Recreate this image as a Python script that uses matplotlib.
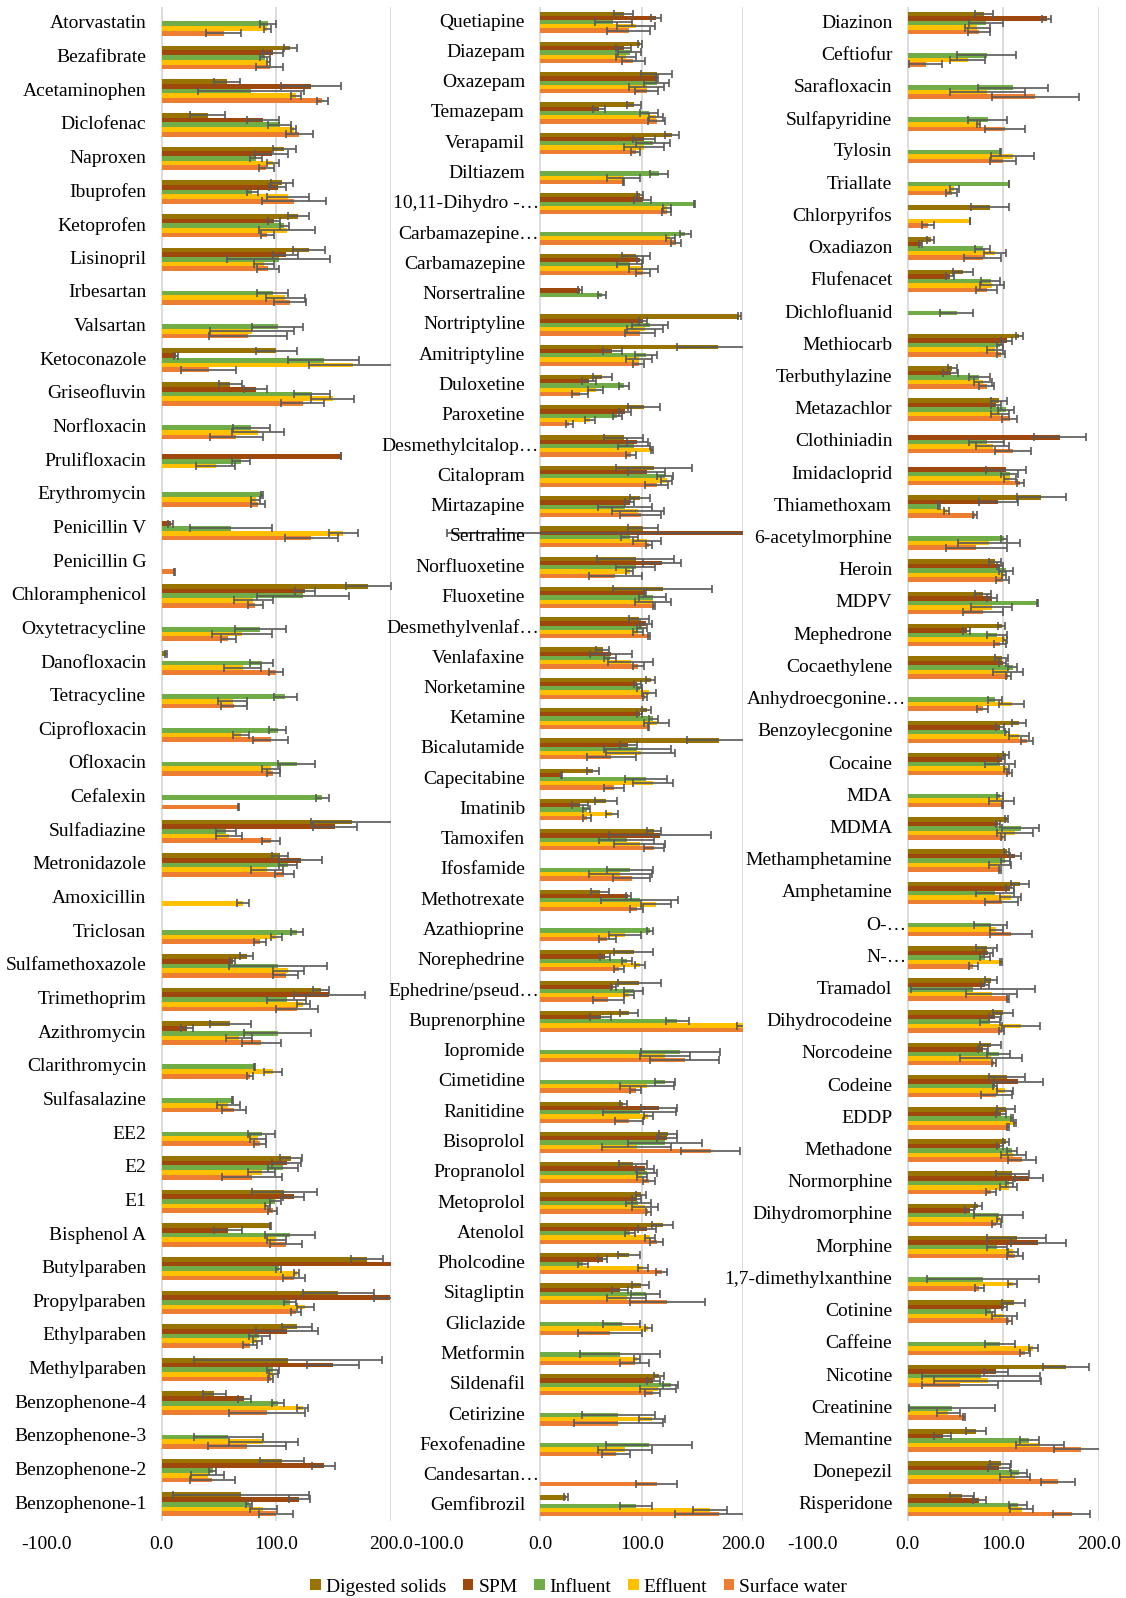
import numpy as np
import matplotlib
matplotlib.use("Agg")
import matplotlib.pyplot as plt
from matplotlib.patches import Patch

plt.rcParams["font.family"] = ["Liberation Serif", "DejaVu Serif"]

SERIES = ["Digested solids", "SPM", "Influent", "Effluent", "Surface water"]
COLORS = ["#997300", "#9E480E", "#70AD47", "#FFC000", "#ED7D31"]
N = None

# ---------------- panel 1 ----------------
p1_labels = ["Atorvastatin", "Bezafibrate", "Acetaminophen", "Diclofenac", "Naproxen",
             "Ibuprofen", "Ketoprofen", "Lisinopril", "Irbesartan", "Valsartan",
             "Ketoconazole", "Griseofluvin", "Norfloxacin", "Prulifloxacin", "Erythromycin",
             "Penicillin V", "Penicillin G", "Chloramphenicol", "Oxytetracycline", "Danofloxacin",
             "Tetracycline", "Ciprofloxacin", "Ofloxacin", "Cefalexin", "Sulfadiazine",
             "Metronidazole", "Amoxicillin", "Triclosan", "Sulfamethoxazole", "Trimethoprim",
             "Azithromycin", "Clarithromycin", "Sulfasalazine", "EE2", "E2",
             "E1", "Bisphenol A", "Butylparaben", "Propylparaben", "Ethylparaben",
             "Methylparaben", "Benzophenone-4", "Benzophenone-3", "Benzophenone-2", "Benzophenone-1"]
p1_ds = [N, 112, 57, 40, 107, 105, 119, 128, N, N,
         100, 60, N, N, N, N, N, 180, N, 4,
         N, N, N, N, 166, 103, N, N, 74, 139,
         60, N, N, N, 113, 107, 95, 179, 154, 118,
         110, 46, N, 105, 69]
p1_ds_err = [0, 5.5, 11, 15, 9.6, 9.5, 9, 14, 0, 0,
             18, 9.6, 0, 0, 0, 0, 0, 19.5, 0, 1,
             0, 0, 0, 0, 36, 7, 0, 0, 6, 7,
             18, 0, 0, 0, 9.6, 28, 0.5, 14, 31, 13,
             82, 10, 0, 19, 59]
p1_spm = [N, 97, 130, 88, 96, 101, 98, 108, N, N,
          12.5, 82, N, 156, N, 8, N, 125, N, N,
          N, N, N, N, 151, 121, N, N, 62, 146,
          22, N, N, N, 109, 115, 58, 205, 199, 109,
          149, 72, N, 141, 120]
p1_spm_err = [0, 9, 26, 14, 14.5, 7.5, 5, 11, 0, 0,
              2, 10, 0, 0, 0, 2, 0, 9, 0, 0,
              0, 0, 0, 0, 19.5, 18.5, 0, 0, 2, 31,
              5, 0, 0, 0, 12.5, 9, 12, 0, 14, 27,
              22.5, 5.5, 0, 9.7, 9]
p1_inf = [93, 90, 78, 103, 82, 79, 107, 102, 97, 101,
          141, 131, 78, 69, 87.5, 60.5, N, 123.5, 86, 87,
          107.5, 101, 117.7, 140, 56, 110, N, 117.7, 101.7, 109,
          101, 81, 61.6, 87, 106, 99, 112, 102, 112, 85,
          97, 101.5, 58, 44.5, 76]
p1_inf_err = [7, 4, 46, 10, 5, 5, 4, 45, 13.5, 22,
              31, 15.4, 16, 7.6, 1, 36, 0, 40, 22, 9.6,
              10, 7.5, 16, 5.4, 8.7, 8, 0, 5, 42.6, 17,
              29, 0.6, 0.5, 12, 13, 5, 22, 2, 5, 9,
              5, 5, 30, 3.2, 2.3]
p1_eff = [92, 93, 117, 115, 97, 110, 109, 89, 107.5, 79,
          167, 149, 84, 47, 82, 158, N, 80, 70, 70.6,
          62, 69, 95, N, 58.4, 92, 71, 100, 110.5, 123.5,
          67, 96.8, 58, 84, 87, 92, 100, 117.7, 125, 83.4,
          97.4, 122.7, 88.7, 40, 88.7]
p1_eff_err = [3, 1.5, 4.6, 2, 5, 18.6, 24.5, 8.7, 17, 36.5,
              39, 18.6, 23, 17, 4, 12.6, 0, 16.6, 26, 16,
              12.5, 7, 7.7, 0, 11.3, 14, 5.2, 5, 13.4, 5.7,
              11.3, 7.7, 10, 7.3, 12, 2.3, 8.5, 2.3, 7.5, 4.2,
              4, 5, 30, 14, 12]
p1_sw = [54, 94, 140, 120, 91, 115, 92, 93, 112, 75.6,
         41, 122.7, 65, N, 84, 130.5, 11, 81.7, 58, 99.7,
         63, 95, 97.4, 67, 95, 107, N, 85.8, 108, 117.7,
         86.6, 77, 63.4, 85.8, 79, 96.8, 108.4, 115.4, 117, 77,
         95, 92, 74, 44, 99.7]
p1_sw_err = [15, 12, 5, 12, 6.5, 28, 5.5, 9.6, 14, 34,
             24, 19, 23, 0, 6, 23.4, 0.5, 6.8, 6.5, 6.4,
             11.5, 15, 5.4, 0.5, 8, 8, 0, 5, 11, 18.5,
             17, 2.5, 10.5, 5.5, 26, 3.8, 14, 9.7, 4, 6,
             2, 33, 34, 19.5, 15]

# ---------------- panel 2 ----------------
p2_labels = ["Quetiapine", "Diazepam", "Oxazepam", "Temazepam", "Verapamil",
             "Diltiazem", "10,11-Dihydro -\u2026", "Carbamazepine\u2026", "Carbamazepine", "Norsertraline",
             "Nortriptyline", "Amitriptyline", "Duloxetine", "Paroxetine", "Desmethylcitalop\u2026",
             "Citalopram", "Mirtazapine", "Sertraline", "Norfluoxetine", "Fluoxetine",
             "Desmethylvenlaf\u2026", "Venlafaxine", "Norketamine", "Ketamine", "Bicalutamide",
             "Capecitabine", "Imatinib", "Tamoxifen", "Ifosfamide", "Methotrexate",
             "Azathioprine", "Norephedrine", "Ephedrine/pseud\u2026", "Buprenorphine", "Iopromide",
             "Cimetidine", "Ranitidine", "Bisoprolol", "Propranolol", "Metoprolol",
             "Atenolol", "Pholcodine", "Sitagliptin", "Gliclazide", "Metformin",
             "Sildenafil", "Cetirizine", "Fexofenadine", "Candesartan\u2026", "Gemfibrozil"]
p2_ds = [82, 98, 114.6, 92, 130, N, 98, N, 94, N,
         196, 175, 61, 102.5, 82, 112, 98, 101.5, 94, 120.5,
         97, 61.4, 108.7, 104.8, 175.7, 52, 64.7, 112, N, 58.8,
         N, 92, 97.5, 87.7, N, N, 81.8, 126, 91.6, 98.8,
         120.5, 87.4, 98.8, N, N, 117, N, N, N, 25.3]
p2_ds_err = [9, 2, 15.5, 7, 7, 0, 3, 0, 14, 0,
             1.6, 40, 9.4, 15.8, 19, 37.4, 9.7, 14.8, 37.8, 48.6,
             10, 6.6, 4.6, 4.3, 31, 5.6, 11, 7, 0, 8.7,
             0, 19, 21, 8.7, 0, 0, 3.6, 9, 14, 5,
             10.5, 11, 8, 0, 0, 5.3, 0, 0, 0, 1.6]
p2_spm = [114, 82, 114.6, 58, 102, N, 100.8, N, 98, 39,
          101.5, 71, 47.6, 83.4, 95.6, 104.8, 88, 260, 120, 103,
          104, 69.6, 95.6, 98, 86.7, 21.3, 39, 118, N, 86.7,
          N, 63.7, 72, 59.4, N, N, 117, 125, 103, 95,
          104.8, 61.4, 78.5, N, N, 111.3, N, N, N, N]
p2_spm_err = [5.4, 7, 1, 6, 10.7, 0, 8.5, 0, 3, 2.3,
              4, 9, 7, 5.6, 10.5, 18, 4.6, 352, 19, 1.3,
              6, 20.7, 3.3, 2.5, 8.2, 0.5, 8, 50, 0, 2.3,
              0, 5, 2.8, 10, 0, 0, 18, 10, 9, 4.3,
              9, 4.3, 8.2, 0, 0, 6.6, 0, 0, 0, 0]
p2_inf = [72, 88, 114.6, 107, 110.7, 117, 152, 143, 88, 61,
          108, 104, 82.4, 76, 92, 122.8, 83.4, 88, 94, 110.7,
          100, 68.6, 98, 111.3, 95.6, 104, 45.6, 85, 88, 98,
          108, 85, 92, 135, 138, 122.8, 98, 123, 104.8, 96.6,
          88, 41.7, 104, 80, 78.5, 128.4, 77, 107, N, 94]
p2_inf_err = [18.6, 11, 12.5, 8.7, 16.7, 9, 0.5, 5, 12, 4,
              17.7, 11, 4.6, 4.6, 15.6, 7.7, 27, 8.5, 19.4, 13.5,
              4.8, 5.6, 2.5, 4.6, 33, 20.7, 3.3, 27, 22.7, 38,
              3.3, 5, 9.4, 11.5, 39, 9.5, 36, 36.6, 10, 12.6,
              5, 5, 14.3, 18.4, 39, 7.5, 36, 42, 0, 15.6]
p2_eff = [94, 84.4, 104.8, 114, 102, 82, 124.5, 128, 101.5, N,
          103, 97, 54.5, 49, 110, 124.5, 96.6, 104.8, 88, 111,
          96.6, 89, 107, 114.6, 98.8, 110.7, 71, 98, 79, 114,
          83.4, 98, 87.7, 205, 122.8, 105.4, 106.4, 95, 100, 103,
          108, 101.5, 85, 106.4, 95.6, 116, 110, 83.4, N, 167]
p2_eff_err = [18.7, 10, 17, 7, 19.7, 15.8, 4, 4.6, 14, 0,
              17.7, 13, 7.5, 4.8, 1.3, 5.6, 25.6, 13.8, 3.6, 18,
              5, 22, 7, 12.3, 34, 19.7, 6, 25, 31, 15,
              15.8, 5, 5, 11, 25, 26.6, 4.6, 34, 5, 13,
              5, 5, 19.4, 3.3, 3, 17.6, 13, 27, 0, 16.7]
p2_sw = [87, 91.6, 104.8, 114.6, 94, 82.4, 124.5, 134, 101.5, N,
         98, 97, 39, 28.6, 89, 114.6, 98.8, 107, 74, 112,
         107, 96.6, 103, 107, 70, 72.6, 45.6, 112, 90, 95,
         66, 77.8, 67, 210, 142.5, 94, 87.7, 167.8, 107, 106.4,
         114.6, 119.5, 125, 68.6, 93, 110.7, 77, 74.5, 114.6, 176]
p2_sw_err = [21, 11.5, 11.3, 8.7, 4.6, 0.5, 4.6, 5, 7, 0,
             15, 5.5, 7.7, 3.3, 5, 11.7, 20.5, 3, 26, 1.3,
             1, 5.7, 2, 0.5, 24.3, 10.3, 4, 10.3, 18.4, 6.6,
             8.5, 5, 15, 0, 34, 5.6, 13.8, 29, 6, 2.6,
             6.2, 5.3, 37, 31.5, 14.3, 7.4, 44, 13.8, 20.5, 43]

# ---------------- panel 3 ----------------
p3_labels = ["Diazinon", "Ceftiofur", "Sarafloxacin", "Sulfapyridine", "Tylosin",
             "Triallate", "Chlorpyrifos", "Oxadiazon", "Flufenacet", "Dichlofluanid",
             "Methiocarb", "Terbuthylazine", "Metazachlor", "Clothiniadin", "Imidacloprid",
             "Thiamethoxam", "6-acetylmorphine", "Heroin", "MDPV", "Mephedrone",
             "Cocaethylene", "Anhydroecgonine\u2026", "Benzoylecgonine", "Cocaine", "MDA",
             "MDMA", "Methamphetamine", "Amphetamine", "O-\u2026", "N-\u2026",
             "Tramadol", "Dihydrocodeine", "Norcodeine", "Codeine", "EDDP",
             "Methadone", "Normorphine", "Dihydromorphine", "Morphine", "1,7-dimethylxanthine",
             "Cotinine", "Caffeine", "Nicotine", "Creatinine", "Memantine",
             "Donepezil", "Risperidone"]
p3_ds = [80, N, N, N, N, N, 86, 24, 57.6, N,
         117, 47, 96, N, N, 140, N, 91.5, 79, 98.4,
         98.4, N, 117, 103, N, 103.7, 103.7, 117.6, N, 82.7,
         87, 100, 87, 104.4, 103, 103, 109.6, 74, 114, N,
         111, N, 165.5, N, 71.6, 97.4, 57.2]
p3_ds_err = [9, 0, 0, 0, 0, 0, 20, 4, 10.5, 0,
             4, 5, 8.4, 0, 0, 26, 0, 6.5, 8.2, 3.8,
             6.5, 0, 7.3, 3, 0, 1.8, 2.3, 9, 0, 10.8,
             6.3, 10.3, 11, 18.8, 9.4, 3, 17, 3.5, 31, 0,
             11.7, 0, 24.3, 0, 10.6, 11, 12.6]
p3_spm = [145.5, N, N, N, N, N, N, 13.6, 44.3, N,
          103.7, 45, 92.5, 159.5, 103, 95, N, 96.7, 88, 61.8,
          99.5, N, 96.7, 98.4, N, 95, 112.7, 107, N, 84.5,
          81, 91.5, 79, 116, 97.7, 96.7, 126.7, 65.3, 136.8, N,
          101, N, 92.5, N, 36.6, 96, 75]
p3_spm_err = [4.4, 0, 0, 0, 0, 0, 0, 1.7, 4.5, 0,
              5.8, 7.7, 5.6, 27, 21, 20.6, 0, 3.5, 5.2, 3.5,
              4, 0, 4, 3.7, 0, 2, 5.6, 4, 0, 5,
              3.7, 5.8, 5.6, 25.8, 5.2, 3.5, 14.8, 4.7, 28.8, 0,
              2.6, 0, 12.7, 0, 8.9, 11.7, 6.6]
p3_inf = [82, 82.7, 110.6, 83.8, 97.7, 106.5, N, 78.5, 87, 51.3,
          96.7, 75, 103, 82.7, 107, 33, 101, 103, 136, 94,
          110, 91.5, 104.4, 96.7, 96.7, 118.3, 102, 91.5, 87, 81,
          68.8, 86, 95.3, 91.5, 109, 109, 106.5, 95.3, 94, 79,
          87, 96.7, 76.8, 46.8, 127.4, 116.6, 116]
p3_inf_err = [18, 30.5, 36.5, 20.4, 0.5, 0, 0, 8, 10, 17,
              3, 10.8, 8.4, 18.5, 9, 1, 3, 7.5, 0.5, 10.5,
              5, 7.8, 2, 15.4, 3.5, 19, 4.7, 19.7, 17.5, 5,
              65, 10.5, 11.9, 2.6, 1.2, 5.4, 3.5, 25.8, 10.5, 59,
              4.5, 15.4, 62, 45, 10, 8.4, 9.4]
p3_eff = [73, 62.8, 83.4, 74.3, 110, 49, 65, 91.5, 88, N,
          91.5, 79, 96.7, 89, 107, 41, 85.5, 101, 88, 102,
          105.4, 109, 116.6, 103.7, 98.4, 112.4, 96.7, 107.8, 93, 97.7,
          88, 118.3, 87, 102, 112.4, 110.6, 105.8, 96.7, 110, 110,
          101, 131.6, 83.8, 42.6, 138.6, 112.4, 119.4]
p3_eff_err = [13, 18.5, 39.4, 1.2, 22.7, 5, 0, 12, 12.6, 0,
              8, 9, 9, 17, 6.6, 2.6, 32.5, 2.3, 21.6, 1.7,
              15.7, 13.3, 10.6, 2.8, 12.7, 18.7, 12, 11.3, 6.6, 0.7,
              27, 20, 32.5, 8.4, 1, 13, 8.7, 2.6, 5.2, 4.7,
              13, 4.9, 56, 11.9, 24.8, 15.4, 11.9]
p3_sw = [74.7, 18.8, 133.7, 102, 100, 46, 21.6, 78.5, 82.7, N,
         97.7, 82.7, 107, 110.6, 118, 70.5, 72, 99.5, 78.5, 96.7,
         105.4, 78.5, 124.6, 107, 99.5, 100, 96.7, 98.4, 107.8, 68.8,
         104.7, 98.4, 90.4, 93, 105.4, 119.4, 87, 93, 112.4, 75,
         106.5, 122.9, 54.8, 59, 181, 157.8, 171.7]
p3_sw_err = [11.5, 17.5, 45.7, 21, 13.3, 6, 6, 19.7, 11.2, 0,
             3.8, 7.7, 7.7, 18.7, 3.8, 2, 31.8, 6.6, 21, 5.8,
             2.6, 5.6, 6.3, 2.6, 0.7, 2, 1.4, 17, 22, 5,
             1, 2.8, 2.4, 16.4, 1, 14.8, 5.4, 4.7, 8.7, 4.7,
             2.3, 5.6, 39.6, 0.9, 28, 17.8, 19.5]

PANELS = [
    (p1_labels, [p1_ds, p1_spm, p1_inf, p1_eff, p1_sw],
     [p1_ds_err, p1_spm_err, p1_inf_err, p1_eff_err, p1_sw_err], 46.7, 391.3),
    (p2_labels, [p2_ds, p2_spm, p2_inf, p2_eff, p2_sw],
     [p2_ds_err, p2_spm_err, p2_inf_err, p2_eff_err, p2_sw_err], 438.8, 743.3),
    (p3_labels, [p3_ds, p3_spm, p3_inf, p3_eff, p3_sw],
     [p3_ds_err, p3_spm_err, p3_inf_err, p3_eff_err, p3_sw_err], 812.0, 1098.7),
]

W, H = 1126, 1598
TOP, BOTTOM = 7, 1521
GRID = "#D9D9D9"
FS = 14


def draw_panel(ax, labels, values, errors):
    n = len(labels)
    ypos = np.arange(n)
    h = 0.14
    for xv in (0, 100, 200):
        ax.axvline(xv, color=GRID, linewidth=1.3, zorder=1)
    for k in range(5):
        v = np.array([np.nan if a is None else a for a in values[k]], dtype=float)
        e = np.array(errors[k], dtype=float)
        yk = ypos + (k - 2) * h
        m = ~np.isnan(v)
        ax.barh(yk[m], v[m], height=h, color=COLORS[k], zorder=2)
        ax.errorbar(v[m], yk[m], xerr=e[m], fmt="none", ecolor="#595959",
                    elinewidth=1.2, capsize=3, capthick=1.2, zorder=3)
    for i, lab in enumerate(labels):
        # truncated names run right up to the axis, the others keep a gap
        dx = -1 if lab.endswith("\u2026") else -11
        ax.annotate(lab, xy=(0, i), xytext=(dx, 0), textcoords="offset points",
                    ha="right", va="center", fontsize=FS, color="#000000")
    ax.set_xlim(-100, 200)
    ax.set_ylim(n - 0.5, -0.5)
    ax.set_yticks([])
    ax.set_xticks([-100, 0, 100, 200])
    ax.set_xticklabels(["-100.0", "0.0", "100.0", "200.0"], fontsize=FS)
    ax.tick_params(axis="x", length=0, pad=11)
    for s in ax.spines.values():
        s.set_visible(False)


fig = plt.figure(figsize=(W / 100, H / 100), dpi=100)
for labels, vals, errs, x0, x1 in PANELS:
    ax = fig.add_axes([x0 / W, 1 - BOTTOM / H, (x1 - x0) / W, (BOTTOM - TOP) / H])
    ax.patch.set_alpha(0)
    draw_panel(ax, labels, vals, errs)

handles = [Patch(facecolor=c, label=s) for c, s in zip(COLORS, SERIES)]
fig.legend(handles=handles, loc="center", bbox_to_anchor=(0.514, 1 - 1587 / H),
           ncol=5, frameon=False, fontsize=FS, handlelength=0.55, handleheight=0.55,
           handletextpad=0.25, columnspacing=0.85)

fig.savefig("out.png", dpi=100)
